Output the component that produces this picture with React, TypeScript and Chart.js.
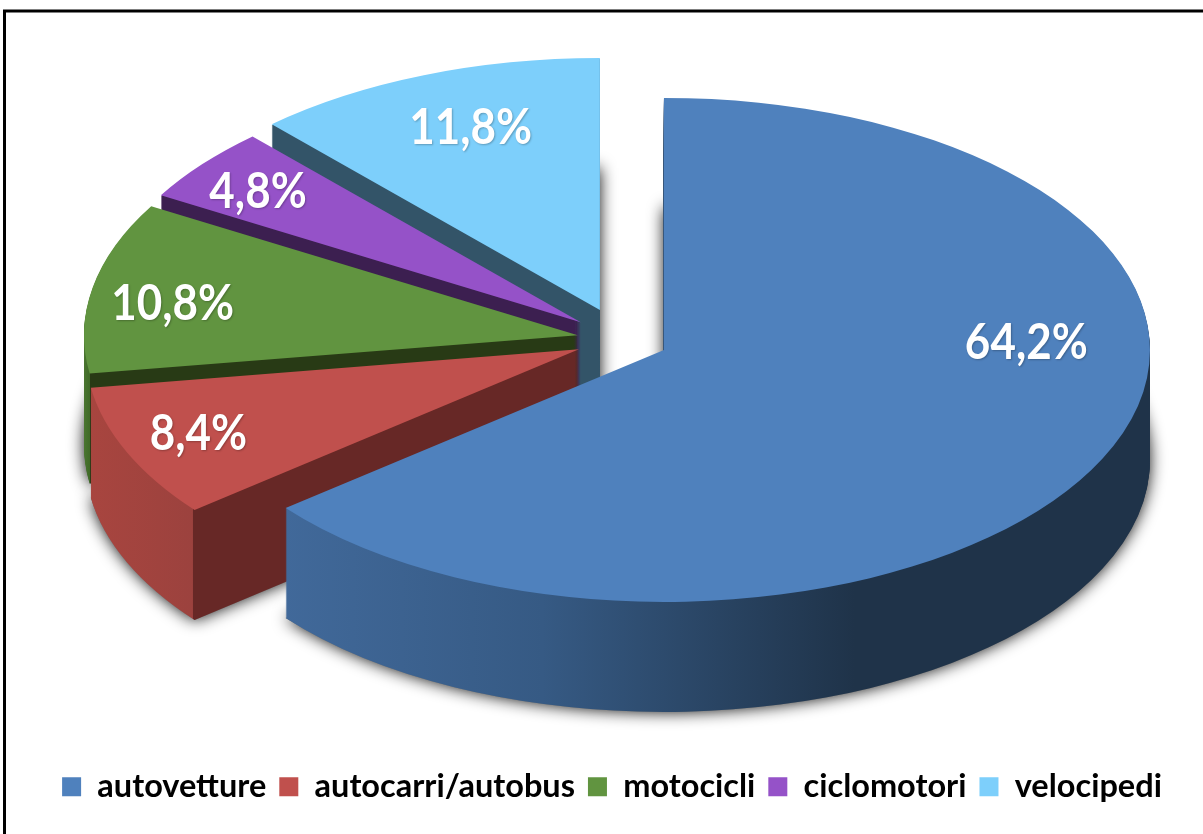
import React, { useEffect, useRef } from "react";
import { Chart, registerables } from "chart.js";

Chart.register(...registerables);

const categories = ["autovetture", "autocarri/autobus", "motocicli", "ciclomotori", "velocipedi"];
const values = [64.2, 8.4, 10.8, 4.8, 11.8];
const topColors = ["#4F81BD", "#C0504D", "#619440", "#9552C8", "#7DCFFB"];
const explode = [46.5, 47, 45, 53, 61];
const radiusGain = [1, 1.016, 1.016, 1, 1];
const labelNudge = [[73, -79], [-87, 18], [-90, 0], [-73, -26], [-13, -27]];

// Ellipse geometry of the tilted pie on the page (pixels)
const RX = 486;
const RY = 252;
const CX = 622;
const CY = 339.5;
const DEPTH = 110;

function wallFill(ctx: CanvasRenderingContext2D, i: number, toUser: (x: number) => number) {
  const stops: Record<number, [number, number, [number, string][]]> = {
    0: [282, 1150, [[0, "#41699A"], [0.3, "#365A84"], [0.66, "#1F3349"], [1, "#1F3349"]]],
    1: [90, 578, [[0, "#A8453F"], [0.21, "#9C423E"], [0.211, "#672826"], [1, "#672826"]]],
    2: [84, 578, [[0, "#4A7530"], [0.012, "#3F6A27"], [0.013, "#283A15"], [1, "#283A15"]]],
    3: [100, 600, [[0, "#3C1F50"], [1, "#3C1F50"]]],
    4: [200, 620, [[0, "#335468"], [1, "#335468"]]],
  };
  const [x0, x1, st] = stops[i];
  const g = ctx.createLinearGradient(toUser(x0), 0, toUser(x1), 0);
  st.forEach(([o, c]) => g.addColorStop(o, c));
  return g;
}

const tiltPlugin = {
  id: "tilt",
  beforeDatasetsDraw(chart: any) {
    const ctx: CanvasRenderingContext2D = chart.ctx;
    const arcs = chart.getDatasetMeta(0).data;
    const r = arcs[0].outerRadius;
    const px = arcs[0].x;
    const py = arcs[0].y;
    const sx = RX / r;
    const sy = RY / r;
    const shiftOf = (arc: any) => {
      const mid = (arc.startAngle + arc.endAngle) / 2;
      const off = (arc.options.offset / RX) * r;
      return [Math.cos(mid) * off, Math.sin(mid) * off];
    };
    const place = (dy: number) => {
      ctx.translate(CX, CY + dy);
      ctx.scale(sx, sy);
      ctx.translate(-px, -py);
    };
    const drawWith = (arc: any, i: number, fill: any) => {
      const saved = arc.options;
      const savedR = arc.outerRadius;
      const [dx, dy] = shiftOf(arc);
      ctx.translate(dx, dy);
      arc.outerRadius = savedR * radiusGain[i];
      arc.options = { ...saved, backgroundColor: fill, borderWidth: 0, offset: 0 };
      arc.draw(ctx);
      arc.options = saved;
      arc.outerRadius = savedR;
    };
    const order = [4, 3, 2, 1, 0];
    // soft shadow under the bottom face of the solid
    order.forEach((i) => {
      ctx.save();
      ctx.shadowColor = "rgba(0,0,0,0.95)";
      ctx.shadowBlur = 16;
      place(DEPTH);
      drawWith(arcs[i], i, "#777777");
      ctx.restore();
    });
    // extruded walls and top faces, back to front
    order.forEach((i) => {
      const [shift] = shiftOf(arcs[i]);
      const toUser = (x: number) => px + (x - CX) / sx - shift;
      const fill = wallFill(ctx, i, toUser);
      for (let dy = DEPTH; dy >= 1; dy -= 1) {
        ctx.save();
        place(dy);
        drawWith(arcs[i], i, fill);
        ctx.restore();
      }
      ctx.save();
      place(0);
      drawWith(arcs[i], i, topColors[i]);
      ctx.restore();
    });
    return false;
  },
  afterDraw(chart: any) {
    const ctx: CanvasRenderingContext2D = chart.ctx;
    const arcs = chart.getDatasetMeta(0).data;
    arcs.forEach((arc: any, i: number) => {
      const mid = (arc.startAngle + arc.endAngle) / 2;
      const ax = CX + Math.cos(mid) * explode[i];
      const ay = CY + Math.sin(mid) * explode[i] * (RY / RX);
      const x = ax + Math.cos(mid) * RX * 0.66 + labelNudge[i][0];
      const y = ay + Math.sin(mid) * RY * 0.66 + labelNudge[i][1];
      ctx.save();
      ctx.translate(x, y);
      ctx.scale(0.88, 1);
      ctx.font = "bold 50px Lato";
      ctx.fillStyle = "#FFFFFF";
      ctx.textAlign = "center";
      ctx.textBaseline = "middle";
      ctx.shadowColor = "rgba(0,0,0,0.25)";
      ctx.shadowBlur = 2;
      ctx.shadowOffsetX = 1;
      ctx.shadowOffsetY = 1;
      ctx.fillText(values[i].toFixed(1).replace(".", ",") + "%", 0, 0);
      ctx.restore();
    });
  },
};

const framePlugin = {
  id: "frame",
  beforeDraw(chart: any) {
    const ctx: CanvasRenderingContext2D = chart.ctx;
    ctx.save();
    ctx.fillStyle = "#FFFFFF";
    ctx.fillRect(0, 0, chart.width, chart.height);
    ctx.strokeStyle = "#000000";
    ctx.lineWidth = 3;
    ctx.beginPath();
    ctx.moveTo(4.5, chart.height);
    ctx.lineTo(4.5, 11);
    ctx.lineTo(chart.width, 11);
    ctx.stroke();
    ctx.restore();
  },
};

export default function App() {
  const ref = useRef<HTMLCanvasElement>(null);
  useEffect(() => {
    document.body.style.margin = "0";
    document.body.style.overflow = "hidden";
    const chart = new Chart(ref.current!, {
      type: "pie",
      data: {
        labels: categories,
        datasets: [
          {
            data: values,
            backgroundColor: topColors,
            borderWidth: 0,
            offset: explode,
            hoverOffset: 0,
          },
        ],
      },
      options: {
        responsive: false,
        animation: false,
        layout: { padding: { top: 2, bottom: 21, left: 21, right: 0 } },
        plugins: {
          tooltip: { enabled: false },
          legend: {
            position: "bottom",
            labels: {
              boxWidth: 19,
              boxHeight: 19,
              padding: 13,
              color: "#000000",
              font: { family: "Lato", weight: "bold", size: 32.5 },
            },
          },
        },
      },
      plugins: [framePlugin, tiltPlugin],
    } as any);
    return () => chart.destroy();
  }, []);
  return <canvas ref={ref} width={1203} height={834} style={{ display: "block" }} />;
}
